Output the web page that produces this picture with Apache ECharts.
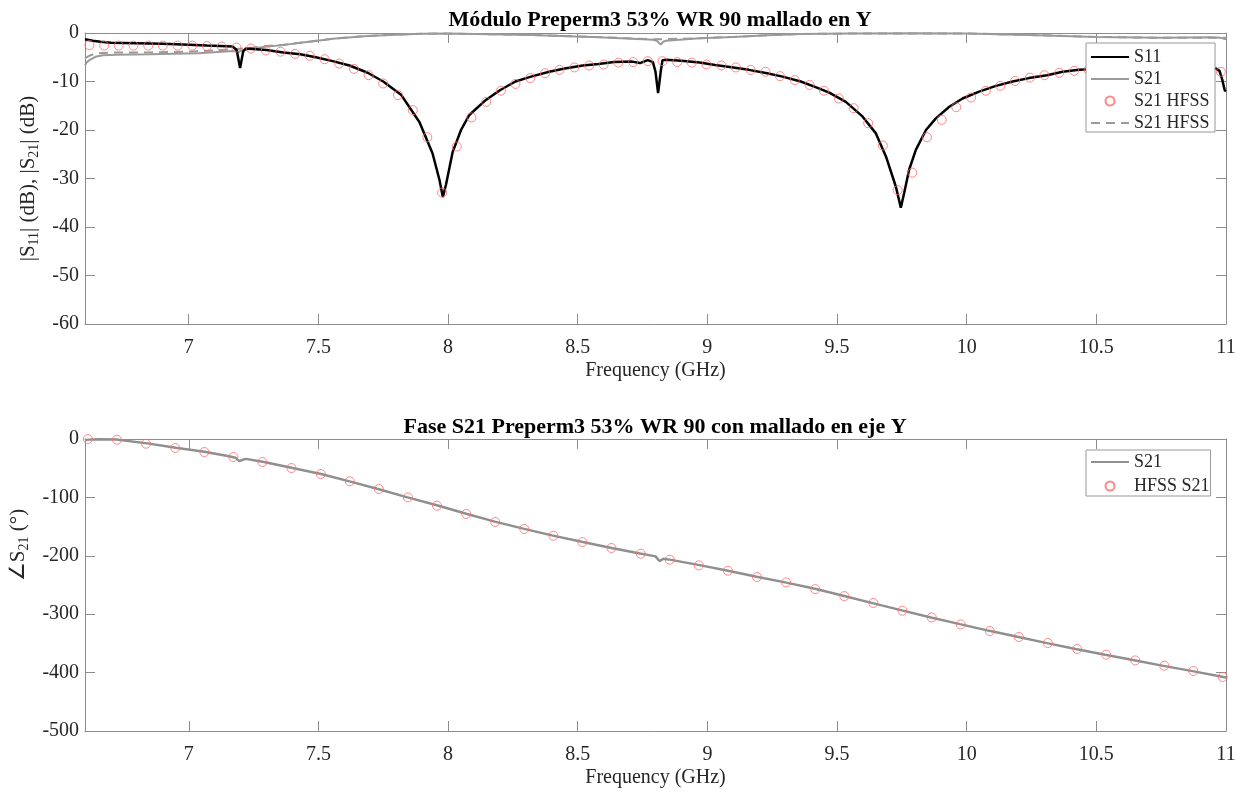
<!DOCTYPE html>
<html>
<head>
<meta charset="utf-8">
<script src="https://cdn.jsdelivr.net/npm/echarts@6/dist/echarts.min.js"></script>
<style>html,body{margin:0;padding:0;background:#fff}#c{width:1245px;height:792px}</style>
</head>
<body>
<div id="c"></div>
<script>
// ---- data ----
const freqTicks = [7, 7.5, 8, 8.5, 9, 9.5, 10, 10.5, 11];
const magTicks = [0, -10, -20, -30, -40, -50, -60];
const phaseTicks = [0, -100, -200, -300, -400, -500];

const s11Meas = [[6.6,-1.3],[6.63,-1.6],[6.66,-1.8],[6.7,-2.0],[6.8,-2.1],[6.9,-2.2],[7.0,-2.4],[7.07,-2.6],[7.17,-2.8],[7.185,-3.5],[7.198,-7.2],[7.21,-3.8],[7.22,-3.2],[7.3,-3.5],[7.365,-4.0],[7.43,-4.4],[7.49,-5.0],[7.555,-5.8],[7.62,-6.7],[7.69,-8.2],[7.75,-10.0],[7.82,-12.8],[7.89,-18.4],[7.94,-24.8],[7.967,-30.3],[7.98,-33.8],[7.992,-31.3],[8.018,-24.5],[8.05,-20],[8.082,-16.9],[8.146,-13.8],[8.2,-11.8],[8.26,-10.0],[8.32,-9.0],[8.39,-8.0],[8.45,-7.3],[8.52,-6.7],[8.58,-6.4],[8.64,-6.0],[8.71,-5.9],[8.74,-6.2],[8.77,-5.6],[8.79,-6.0],[8.80,-8],[8.81,-12.4],[8.82,-8],[8.827,-5.6],[8.84,-5.5],[8.9,-5.7],[8.97,-6.1],[9.03,-6.6],[9.1,-7.1],[9.16,-7.6],[9.23,-8.3],[9.29,-9.0],[9.36,-10.0],[9.42,-11.2],[9.47,-12.3],[9.534,-14.2],[9.598,-17.2],[9.65,-20.7],[9.689,-25.5],[9.727,-31.7],[9.746,-36.0],[9.759,-33],[9.778,-28.2],[9.804,-24.1],[9.843,-20],[9.881,-17.6],[9.933,-15.2],[9.984,-13.5],[10.048,-12.1],[10.113,-10.9],[10.177,-10.0],[10.24,-9.3],[10.31,-8.7],[10.37,-8.0],[10.433,-7.6],[10.5,-7.4],[10.6,-7.2],[10.7,-7.1],[10.8,-7.1],[10.9,-7.2],[10.96,-7.3],[10.975,-7.8],[10.985,-9.5],[10.995,-11.8],[11.0,-12]];

const s21Meas = [[6.6,-6.6],[6.607,-6.0],[6.617,-5.6],[6.64,-4.9],[6.67,-4.6],[6.72,-4.5],[6.85,-4.4],[7.04,-4.2],[7.17,-3.7],[7.195,-3.9],[7.205,-3.6],[7.25,-3.2],[7.3,-2.8],[7.365,-2.5],[7.43,-2.0],[7.49,-1.65],[7.555,-1.2],[7.69,-0.6],[7.82,-0.3],[7.9,-0.15],[8.0,-0.1],[8.1,-0.2],[8.32,-0.4],[8.58,-0.9],[8.71,-1.2],[8.79,-1.4],[8.805,-1.6],[8.82,-2.4],[8.83,-1.8],[8.84,-1.6],[8.97,-1.1],[9.1,-0.8],[9.23,-0.45],[9.36,-0.2],[9.55,-0.1],[9.8,-0.05],[10.0,-0.1],[10.24,-0.4],[10.5,-0.8],[10.75,-1.0],[10.94,-0.9],[10.98,-1.0],[11.0,-1.3]];

const s21HfssMag = [[6.6,-5.2],[6.62,-4.6],[6.65,-4.2],[6.7,-4.05],[6.85,-4.0],[7.0,-3.85],[7.1,-3.6],[7.17,-3.35],[7.25,-3.0],[7.3,-2.7],[7.365,-2.4],[7.43,-2.0],[7.49,-1.6],[7.555,-1.2],[7.69,-0.6],[7.82,-0.3],[7.95,-0.1],[8.1,-0.2],[8.32,-0.4],[8.58,-0.85],[8.8,-1.3],[8.97,-1.1],[9.1,-0.8],[9.23,-0.45],[9.36,-0.2],[9.6,-0.1],[10.0,-0.1],[10.24,-0.4],[10.5,-0.8],[10.75,-1.0],[11.0,-1.0]];

const s11Hfss = [[6.617,-2.5],[6.674,-2.6],[6.730,-2.6],[6.787,-2.6],[6.844,-2.6],[6.900,-2.6],[6.957,-2.6],[7.014,-2.6],[7.070,-2.7],[7.127,-2.8],[7.184,-3.0],[7.240,-3.2],[7.297,-3.6],[7.354,-3.85],[7.410,-4.3],[7.467,-4.7],[7.524,-5.4],[7.580,-6.3],[7.637,-7.4],[7.694,-8.7],[7.750,-10.4],[7.807,-12.8],[7.864,-15.9],[7.920,-21.5],[7.977,-32.9],[8.034,-23.4],[8.090,-17.4],[8.147,-14.2],[8.204,-11.9],[8.260,-10.5],[8.317,-9.3],[8.374,-8.3],[8.430,-7.6],[8.487,-7.1],[8.544,-6.7],[8.600,-6.5],[8.657,-6.1],[8.714,-6.0],[8.770,-5.8],[8.827,-5.8],[8.884,-6.0],[8.940,-6.1],[8.997,-6.5],[9.054,-6.7],[9.110,-7.1],[9.167,-7.6],[9.224,-8.0],[9.280,-8.9],[9.337,-9.7],[9.394,-10.7],[9.450,-11.9],[9.507,-13.5],[9.564,-15.5],[9.620,-18.6],[9.677,-23.2],[9.734,-32.4],[9.790,-28.8],[9.847,-21.5],[9.904,-17.9],[9.960,-15.3],[10.017,-13.3],[10.074,-11.9],[10.130,-10.9],[10.187,-9.9],[10.244,-9.2],[10.300,-8.7],[10.357,-8.2],[10.414,-7.8],[10.470,-7.6],[10.527,-7.5],[10.584,-7.4],[10.640,-7.4],[10.697,-7.4],[10.754,-7.5],[10.810,-7.6],[10.867,-7.7],[10.924,-7.8],[10.980,-8.0]];

const phaseMeas = [[6.6,-1.5],[6.65,-0.5],[6.72,-1],[6.84,-7.5],[6.95,-15],[7.06,-22],[7.15,-29],[7.18,-32],[7.195,-38],[7.205,-36],[7.22,-34],[7.29,-39.5],[7.40,-49.5],[7.51,-60],[7.62,-72.5],[7.73,-85.5],[7.84,-99.5],[7.96,-114],[8.07,-128],[8.18,-141.5],[8.29,-153.5],[8.40,-165],[8.515,-176],[8.63,-186.5],[8.74,-196],[8.8,-201],[8.815,-209],[8.83,-205],[8.86,-207],[8.97,-216],[9.08,-225.5],[9.19,-236],[9.30,-245.5],[9.415,-256.5],[9.524,-268.5],[9.637,-281],[9.75,-293.5],[9.862,-305.5],[9.974,-317],[10.087,-328.5],[10.2,-339],[10.31,-349.5],[10.42,-359.5],[10.534,-369.5],[10.646,-379],[10.759,-388.5],[10.871,-397.5],[11.0,-408.5]];

const phaseHfss = [[6.611,0],[6.723,-1.2],[6.835,-8],[6.948,-15.4],[7.060,-22.3],[7.172,-30.8],[7.284,-39.4],[7.396,-49.7],[7.509,-60],[7.621,-72.5],[7.733,-85.6],[7.845,-100],[7.957,-114.2],[8.070,-128.4],[8.182,-142.1],[8.294,-154.1],[8.406,-165.6],[8.518,-176.4],[8.630,-186.6],[8.743,-196.4],[8.855,-206.7],[8.967,-216.4],[9.079,-225.5],[9.191,-236.3],[9.304,-245.5],[9.416,-257],[9.528,-269],[9.640,-280.8],[9.752,-294],[9.865,-305.5],[9.977,-317.5],[10.089,-328.8],[10.201,-339],[10.313,-349.3],[10.426,-359.6],[10.538,-369.3],[10.650,-379.1],[10.762,-388.2],[10.874,-397.3],[10.987,-407.5]];

// ---- chart ----
const FONT = '"Liberation Serif","Times New Roman",serif';
const AXC = '#8c8c8c';
const LBL = '#262626';
const GREY = '#9a9a9a';
const RED = '#ff6a6a';

const rich = {
  m: { fontFamily: FONT, fontSize: 21, color: LBL, lineHeight: 26 },
  s: { fontFamily: FONT, fontSize: 14, color: LBL, lineHeight: 9, verticalAlign: 'bottom' },
  sp: { width: 80, height: 10 }
};

function xAxisDef(gi, pos, show) {
  return {
    type: 'value', gridIndex: gi, position: pos, min: 6.6, max: 11,
    axisLine: { show: true, onZero: false, lineStyle: { color: AXC, width: 1 } },
    axisTick: { show: true, inside: true, length: 10, customValues: freqTicks, lineStyle: { color: AXC } },
    axisLabel: { show: show, customValues: freqTicks, color: LBL, fontFamily: FONT, fontSize: 20, margin: 14 },
    splitLine: { show: false },
    name: show ? 'Frequency (GHz)' : '', nameLocation: 'middle', nameGap: 37,
    nameTextStyle: { color: LBL, fontFamily: FONT, fontSize: 20 }
  };
}
function yAxisDef(gi, pos, show, min, interval, nameText) {
  return {
    type: 'value', gridIndex: gi, position: pos, min: min, max: 0, interval: interval,
    axisLine: { show: true, onZero: false, lineStyle: { color: AXC, width: 1 } },
    axisTick: { show: true, inside: true, length: 10, lineStyle: { color: AXC } },
    axisLabel: { show: show, color: LBL, fontFamily: FONT, fontSize: 20, margin: 6 },
    splitLine: { show: false },
    name: show ? nameText : '', nameLocation: 'middle', nameGap: 44, nameRotate: 90,
    nameTextStyle: { color: LBL, fontFamily: FONT, fontSize: 21, rich: rich }
  };
}

const chart = echarts.init(document.getElementById('c'), null, { renderer: 'canvas' });
const noDot = { opacity: 0 };
const circleStyle = { color: 'rgba(255,255,255,0)', borderColor: RED, borderWidth: 1 };
chart.setOption({
  backgroundColor: '#fff',
  animation: false,
  title: [
    { text: 'Módulo Preperm3 53% WR 90 mallado en Y', left: 655, top: 4, textAlign: 'center',
      textStyle: { fontFamily: FONT, fontWeight: 'bold', fontSize: 22, color: '#000' } },
    { text: 'Fase S21 Preperm3 53% WR 90 con mallado en eje Y', left: 650, top: 411, textAlign: 'center',
      textStyle: { fontFamily: FONT, fontWeight: 'bold', fontSize: 22, color: '#000' } }
  ],
  grid: [
    { left: 85, top: 33, width: 1141, height: 291 },
    { left: 85, top: 439, width: 1141, height: 292 }
  ],
  xAxis: [xAxisDef(0, 'bottom', true), xAxisDef(0, 'top', false), xAxisDef(1, 'bottom', true), xAxisDef(1, 'top', false)],
  yAxis: [
    yAxisDef(0, 'left', true, -60, 10, '{m||S}{s|11}{m|| (dB), |S}{s|21}{m|| (dB)}'),
    yAxisDef(0, 'right', false, -60, 10, ''),
    yAxisDef(1, 'left', true, -500, 100, '{sp|}{m|∠S}{s|21}{m| (°)}'),
    yAxisDef(1, 'right', false, -500, 100, '')
  ],
  legend: [
    { data: [{ name: 'S11', itemStyle: noDot }, { name: 'S21', itemStyle: noDot }, { name: 'S21 HFSS' }, { name: 'S21 HFSS ', itemStyle: noDot }],
      orient: 'vertical', left: 1086, top: 43, z: 20,
      backgroundColor: '#fff', borderColor: '#999', borderWidth: 1, borderRadius: 0,
      padding: [5, 1, 0, 4], itemWidth: 38, itemHeight: 9, itemGap: 4, selectedMode: false,
      textStyle: { fontFamily: FONT, fontSize: 18, color: LBL } },
    { data: [{ name: 'S21 ', itemStyle: noDot }, { name: 'HFSS S21' }], orient: 'vertical', left: 1086, top: 450, z: 20,
      backgroundColor: '#fff', borderColor: '#999', borderWidth: 1, borderRadius: 0,
      padding: [3, 1, 1, 4], itemWidth: 38, itemHeight: 9, itemGap: 6, selectedMode: false,
      textStyle: { fontFamily: FONT, fontSize: 18, color: LBL } }
  ],
  series: [
    { name: 'S21', type: 'line', xAxisIndex: 0, yAxisIndex: 0, data: s21Meas, symbol: 'none', z: 2,
      lineStyle: { color: GREY, width: 2 }, itemStyle: { color: GREY } },
    { name: 'S21 HFSS ', type: 'line', xAxisIndex: 0, yAxisIndex: 0, data: s21HfssMag, symbol: 'none', z: 2,
      lineStyle: { color: GREY, width: 2, type: [9, 6] }, itemStyle: { color: GREY } },
    { name: 'S11', type: 'line', xAxisIndex: 0, yAxisIndex: 0, data: s11Meas, symbol: 'none', z: 3,
      lineStyle: { color: '#000', width: 2.5 }, itemStyle: { color: '#000' } },
    { name: 'S21 HFSS', type: 'scatter', xAxisIndex: 0, yAxisIndex: 0, data: s11Hfss, symbol: 'circle', symbolSize: 9, z: 3,
      itemStyle: circleStyle },
    { name: 'S21 ', type: 'line', xAxisIndex: 2, yAxisIndex: 2, data: phaseMeas, symbol: 'none', z: 2,
      lineStyle: { color: '#8f8f8f', width: 2.5 }, itemStyle: { color: '#8f8f8f' } },
    { name: 'HFSS S21', type: 'scatter', xAxisIndex: 2, yAxisIndex: 2, data: phaseHfss, symbol: 'circle', symbolSize: 9, z: 3,
      itemStyle: circleStyle }
  ]
});
</script>
</body>
</html>
